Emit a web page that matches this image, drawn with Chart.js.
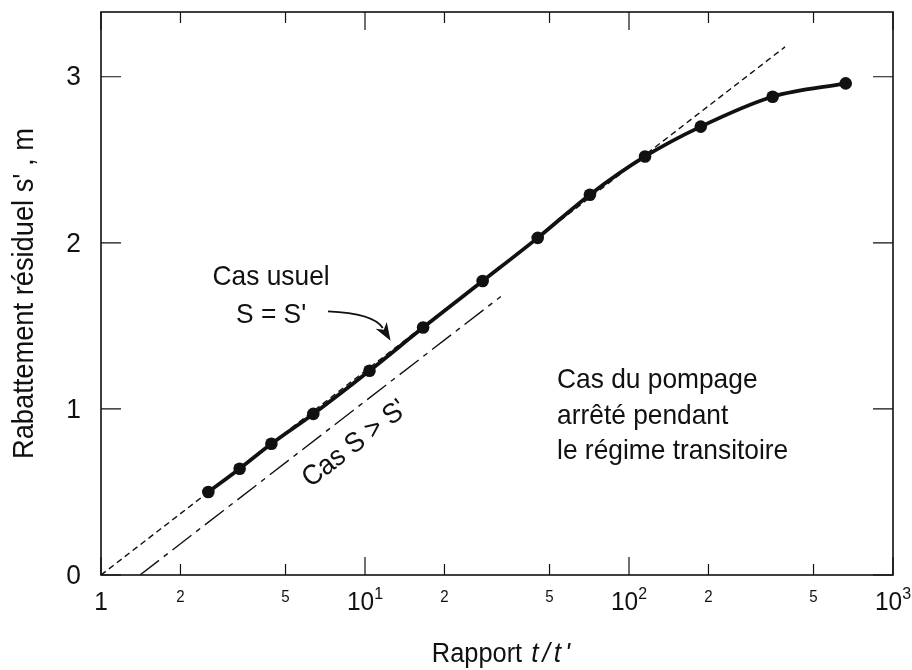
<!DOCTYPE html>
<html>
<head>
<meta charset="utf-8">
<script src="https://cdn.jsdelivr.net/npm/chart.js@4/dist/chart.umd.min.js"></script>
<style>
  html, body { margin: 0; padding: 0; background: #fff; }
  #wrap { width: 912px; height: 670px; }
</style>
</head>
<body>
<div id="wrap"><canvas id="chart" width="912" height="670"></canvas></div>
<script>
// Rapport t/t' et rabattement résiduel mesuré (m)
const rapport = [2.55, 3.35, 4.42, 6.37, 10.4, 16.6, 27.9, 45.1, 71.1, 115, 187, 350, 662];
const rabattement = [0.50, 0.64, 0.79, 0.97, 1.23, 1.49, 1.77, 2.03, 2.29, 2.52, 2.70, 2.88, 2.96];

// Droite de Theis pour S = S' et droite décalée pour S > S'
const usuelT = [1, 390];
const usuelS = [0, 3.18];
const decaleT = [1.405, 32.7];
const decaleS = [0, 1.677];

// Graduations
const majorTicks = [1, 10, 100, 1000];
const majorBase = ['1', '10', '10', '10'];
const majorExp = ['', '1', '2', '3'];
const minorTicks = [2, 5, 20, 50, 200, 500];
const minorLabels = ['2', '5', '2', '5', '2', '5'];
const yTicks = [0, 1, 2, 3];
const yMax = 3.39;

const FONT = "'Liberation Sans', Arial, sans-serif";
const INK = '#111';
const SX = 0.94; // police légèrement condensée

const toPoints = (xs, ys) => xs.map((x, i) => ({ x: x, y: ys[i] }));

// texte condensé horizontalement, éventuellement incliné
function drawText(ctx, str, px, py, size, opt = {}) {
    ctx.save();
    ctx.translate(px, py);
    if (opt.angle) ctx.rotate(opt.angle);
    ctx.scale(SX, 1);
    ctx.font = (opt.italic ? 'italic ' : '') + size + 'px ' + FONT;
    ctx.textAlign = opt.align || 'left';
    ctx.textBaseline = opt.baseline || 'alphabetic';
    ctx.fillText(str, 0, 0);
    ctx.restore();
}

function textWidth(ctx, str, size, italic) {
    ctx.save();
    ctx.font = (italic ? 'italic ' : '') + size + 'px ' + FONT;
    const w = ctx.measureText(str).width * SX;
    ctx.restore();
    return w;
}

// Cadre, graduations internes, libellés et annotations
const decorPlugin = {
    id: 'decor',
    afterDatasetsDraw(chart) {
        const ctx = chart.ctx;
        const { left, right, top, bottom } = chart.chartArea;
        const x = chart.scales.x, y = chart.scales.y;
        ctx.save();
        ctx.strokeStyle = INK;
        ctx.fillStyle = INK;

        // cadre
        ctx.lineWidth = 1.6;
        ctx.strokeRect(left, top, right - left, bottom - top);

        // graduations x (bas et haut)
        ctx.lineWidth = 1.2;
        const tick = (px, len) => {
            ctx.beginPath();
            ctx.moveTo(px, bottom); ctx.lineTo(px, bottom - len);
            ctx.moveTo(px, top); ctx.lineTo(px, top + len);
            ctx.stroke();
        };
        majorTicks.forEach(v => tick(x.getPixelForValue(v), 18));
        minorTicks.forEach(v => tick(x.getPixelForValue(v), 11));

        // graduations y (gauche et droite)
        yTicks.forEach(v => {
            const py = y.getPixelForValue(v);
            ctx.beginPath();
            ctx.moveTo(left, py); ctx.lineTo(left + 20, py);
            ctx.moveTo(right, py); ctx.lineTo(right - 20, py);
            ctx.stroke();
        });

        // libellés x : puissances de 10
        majorTicks.forEach((v, i) => {
            const px = x.getPixelForValue(v);
            const wb = textWidth(ctx, majorBase[i], 26);
            const we = majorExp[i] ? textWidth(ctx, majorExp[i], 17) : 0;
            const x0 = px - (wb + we) / 2;
            drawText(ctx, majorBase[i], x0, 610, 26);
            if (majorExp[i]) drawText(ctx, majorExp[i], x0 + wb, 599, 17);
        });
        minorTicks.forEach((v, i) => {
            drawText(ctx, minorLabels[i], x.getPixelForValue(v), 602, 16, { align: 'center' });
        });

        // libellés y
        yTicks.forEach(v => {
            drawText(ctx, String(v), 81, y.getPixelForValue(v) + 1, 28, { align: 'right', baseline: 'middle' });
        });

        // titre de l'axe y
        drawText(ctx, "Rabattement résiduel s' , m", 33, (top + bottom) / 2, 29,
            { align: 'center', angle: -Math.PI / 2 });

        // titre de l'axe x (t/t' en italique, lettres espacées)
        const p1 = 'Rapport';
        const w1 = textWidth(ctx, p1, 27);
        const chars = ['t', '/', 't', "'"];
        const gap = 4;
        const wc = chars.map(c => textWidth(ctx, c, 28, true));
        const total = w1 + 9 + wc.reduce((a, b) => a + b, 0) + gap * (chars.length - 1);
        let xt = (left + right) / 2 + 4 - total / 2;
        drawText(ctx, p1, xt, 662, 27);
        xt += w1 + 9;
        chars.forEach((c, i) => {
            drawText(ctx, c, xt, 662, 28, { italic: true });
            xt += wc[i] + gap;
        });

        // annotations
        drawText(ctx, 'Cas usuel', x.getPixelForValue(4.41), y.getPixelForValue(1.747), 28, { align: 'center' });
        drawText(ctx, "S = S'", x.getPixelForValue(4.41), y.getPixelForValue(1.518), 28, { align: 'center' });

        drawText(ctx, 'Cas du pompage', x.getPixelForValue(53.4), y.getPixelForValue(1.127), 28);
        drawText(ctx, 'arrêté pendant', x.getPixelForValue(53.4), y.getPixelForValue(0.910), 28);
        drawText(ctx, 'le régime transitoire', x.getPixelForValue(53.4), y.getPixelForValue(0.699), 28);

        // texte incliné le long de la droite S > S'
        const ax = x.getPixelForValue(decaleT[0]), ay = y.getPixelForValue(decaleS[0]);
        const bx = x.getPixelForValue(decaleT[1]), by = y.getPixelForValue(decaleS[1]);
        const ang = Math.atan2(by - ay, bx - ax);
        drawText(ctx, "Cas S > S'", x.getPixelForValue(9.16), y.getPixelForValue(0.789), 28,
            { align: 'center', baseline: 'middle', angle: ang });

        // flèche courbe vers la courbe usuelle
        const sx = x.getPixelForValue(7.24), sy = y.getPixelForValue(1.587);
        const cx = x.getPixelForValue(10.8), cy = y.getPixelForValue(1.575);
        const tx = x.getPixelForValue(12.5), ty = y.getPixelForValue(1.41);
        const dir = Math.atan2(ty - cy, tx - cx);
        const hl = 18, hw = 6.5;
        const bxh = tx - hl * Math.cos(dir), byh = ty - hl * Math.sin(dir);
        ctx.lineWidth = 1.8;
        ctx.beginPath();
        ctx.moveTo(sx, sy);
        ctx.quadraticCurveTo(cx, cy, bxh + 3 * Math.cos(dir), byh + 3 * Math.sin(dir));
        ctx.stroke();
        ctx.beginPath();
        ctx.moveTo(tx, ty);
        ctx.lineTo(bxh + hw * Math.sin(dir), byh - hw * Math.cos(dir));
        ctx.lineTo(bxh + 5 * Math.cos(dir), byh + 5 * Math.sin(dir));
        ctx.lineTo(bxh - hw * Math.sin(dir), byh + hw * Math.cos(dir));
        ctx.closePath();
        ctx.fill();

        ctx.restore();
    }
};

new Chart(document.getElementById('chart'), {
    type: 'scatter',
    data: {
        datasets: [
            {
                label: 'Rabattement résiduel',
                data: toPoints(rapport, rabattement),
                showLine: true,
                borderColor: INK,
                borderWidth: 3.8,
                cubicInterpolationMode: 'monotone',
                pointRadius: 6.3,
                pointBackgroundColor: INK,
                pointBorderWidth: 0,
            },
            {
                label: "S = S'",
                data: toPoints(usuelT, usuelS),
                showLine: true,
                borderColor: INK,
                borderWidth: 1.4,
                borderDash: [6, 4],
                pointRadius: 0,
            },
            {
                label: "S > S'",
                data: toPoints(decaleT, decaleS),
                showLine: true,
                borderColor: INK,
                borderWidth: 1.4,
                borderDash: [24, 6, 5, 6],
                pointRadius: 0,
            },
        ],
    },
    options: {
        responsive: false,
        animation: false,
        layout: { padding: { left: 101, right: 19, top: 12, bottom: 95 } },
        plugins: { legend: { display: false }, tooltip: { enabled: false } },
        scales: {
            x: { type: 'logarithmic', min: 1, max: 1000, display: false },
            y: { type: 'linear', min: 0, max: yMax, display: false },
        },
    },
    plugins: [decorPlugin],
});
</script>
</body>
</html>
